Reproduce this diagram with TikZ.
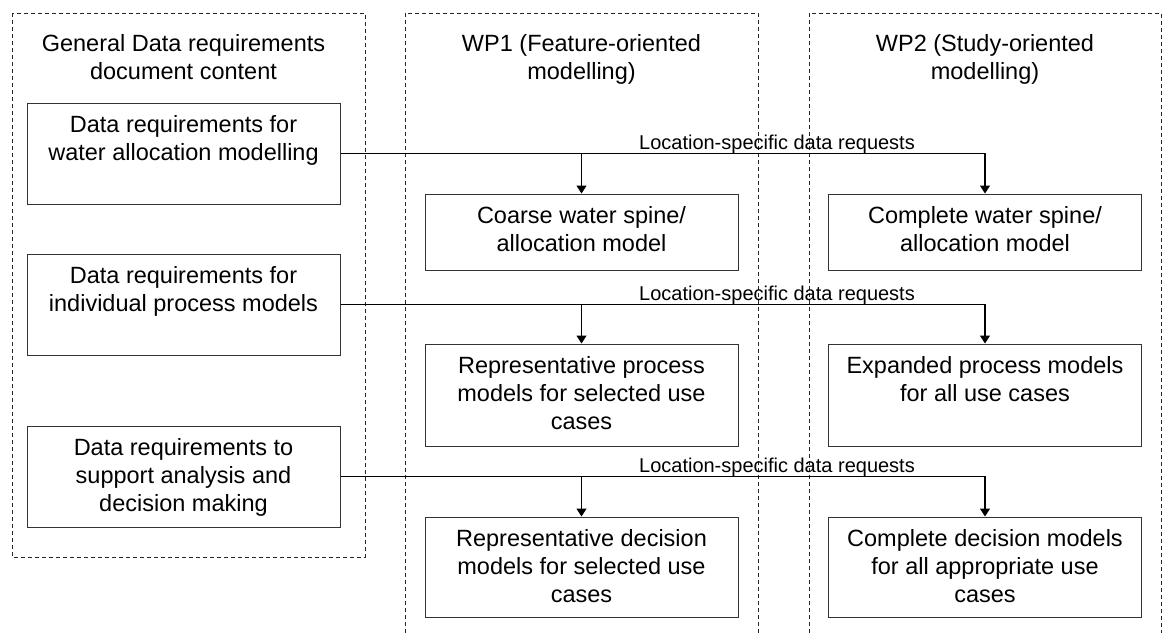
\documentclass[tikz,border=0pt]{standalone}
\usepackage{fontspec}
\setmainfont{Liberation Sans}
\usetikzlibrary{arrows.meta}
\newcommand{\topgap}{\rule{0pt}{30pt}}
\begin{document}
\begin{tikzpicture}[x=1pt,y=-1pt,
  boxstyle/.style={draw=black!80, line width=1pt, minimum width=313pt, inner sep=0pt},
  txt/.style={align=center, font=\fontsize{23.5}{28}\selectfont, inner sep=0pt, anchor=north},
  lbl/.style={font=\fontsize{20}{24}\selectfont, inner sep=0pt, anchor=base},
  cont/.style={draw=black!85, line width=0.8pt, dash pattern=on 4pt off 3pt},
  conn/.style={draw=black, line width=1.2pt},
  arr/.style={conn, -{Triangle[length=8pt,width=10pt]}}]
\useasboundingbox (0,0) rectangle (1163,633);
% containers
\draw[cont] (12,13) rectangle (365,557);
\draw[cont] (405,633) -- (405,13) -- (758,13) -- (758,633);
\draw[cont] (809,633) -- (809,13) -- (1161,13) -- (1161,633);
% titles
\node[txt] (t0) at (183.5,21) {\topgap General Data requirements\\document content};
\node[txt] (t1) at (581.5,21) {\topgap WP1 (Feature-oriented\\modelling)};
\node[txt] (t2) at (985,21) {\topgap WP2 (Study-oriented\\modelling)};
% left boxes
\node[boxstyle, minimum height=101pt] (L1) at (183.5,153.5) {};
\node[boxstyle, minimum height=101pt] (L2) at (183.5,304.5) {};
\node[boxstyle, minimum height=101pt] (L3) at (183.5,476.5) {};
\node[txt] (L1t) at (L1.north) {\topgap Data requirements for\\water allocation modelling};
\node[txt] (L2t) at (L2.north) {\topgap Data requirements for\\individual process models};
\node[txt] (L3t) at (L3.north) {\topgap Data requirements to\\support analysis and\\decision making};
% WP1 boxes
\node[boxstyle, minimum height=76pt] (A1) at (581.5,232) {};
\node[boxstyle, minimum height=102pt] (A2) at (581.5,395) {};
\node[boxstyle, minimum height=100pt] (A3) at (581.5,567) {};
\node[txt] (A1t) at (A1.north) {\topgap Coarse water spine/\\allocation model};
\node[txt] (A2t) at (A2.north) {\topgap Representative process\\models for selected use\\cases};
\node[txt] (A3t) at (A3.north) {\topgap Representative decision\\models for selected use\\cases};
% WP2 boxes
\node[boxstyle, minimum height=76pt] (B1) at (985,232) {};
\node[boxstyle, minimum height=102pt] (B2) at (985,395) {};
\node[boxstyle, minimum height=100pt] (B3) at (985,567) {};
\node[txt] (B1t) at (B1.north) {\topgap Complete water spine/\\allocation model};
\node[txt] (B2t) at (B2.north) {\topgap Expanded process models\\for all use cases};
\node[txt] (B3t) at (B3.north) {\topgap Complete decision models\\for all appropriate use\\cases};
% connectors
\draw[arr] (L1.east) -| (B1.north);
\draw[arr] (L1.east -| A1.north) -- (A1.north);
\draw[arr] (L2.east) -| (B2.north);
\draw[arr] (L2.east -| A2.north) -- (A2.north);
\draw[arr] (L3.east) -| (B3.north);
\draw[arr] (L3.east -| A3.north) -- (A3.north);
% labels
\node[lbl] (m1) at (777,149) {Location-specific data requests};
\node[lbl] (m2) at (777,300) {Location-specific data requests};
\node[lbl] (m3) at (777,472) {Location-specific data requests};
\end{tikzpicture}
\end{document}
